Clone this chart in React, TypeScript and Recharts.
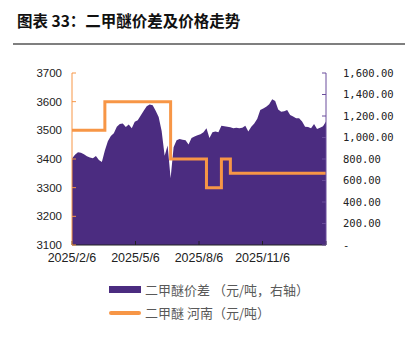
import React from "react";
import { ComposedChart, Area, Line, XAxis, YAxis } from "recharts";

// spread (right axis), evenly spaced samples across the year
const spread = [
  805, 840, 862, 858, 845, 825, 815, 808, 828, 790,
  772, 880, 965, 1015, 1040, 1100, 1125, 1130, 1098, 1120,
  1085, 1147, 1160, 1205, 1250, 1290, 1308, 1300, 1250, 1190,
  1060, 830, 925, 620, 910, 975, 985, 980, 975, 935,
  995, 1010, 1020, 1030, 1050, 1085, 995, 1050, 1055, 1050,
  1110, 1105, 1100, 1095, 1085, 1090, 1085, 1090, 1110, 1055,
  1100, 1130, 1175, 1255, 1270, 1285, 1310, 1355, 1340, 1260,
  1240, 1245, 1255, 1210, 1195, 1180, 1178, 1150, 1100, 1098,
  1085, 1125, 1080, 1090, 1105, 1150,
];

// Henan price steps (left axis): index where price changes, new price
const henanAt = [0, 11, 33, 45, 50, 53, 85];
const henanPrice = [3500, 3600, 3400, 3300, 3400, 3350, 3350];

const xLabels = ["2025/2/6", "2025/5/6", "2025/8/6", "2025/11/6", ""];
const leftTicks = [3100, 3200, 3300, 3400, 3500, 3600, 3700];
const rightTicks = [0, 200, 400, 600, 800, 1000, 1200, 1400, 1600];

const PURPLE = "#4B2C80";
const ORANGE = "#F79646";
const LAST = spread.length - 1;
const xTicks = [0, LAST / 4, LAST / 2, (LAST * 3) / 4, LAST];

const data = spread.map((v, i) => {
  const k = henanAt.indexOf(i);
  return { i, spread: v, henan: k >= 0 ? henanPrice[k] : undefined };
});

const fmtRight = (v: number) =>
  v === 0
    ? "-"
    : v.toLocaleString("en-US", { minimumFractionDigits: 2, maximumFractionDigits: 2 });

const cjk = '"Noto Sans CJK SC", sans-serif';

export default function App() {
  return (
    <div style={{ position: "absolute", left: 0, top: 0, width: 405, height: 340, background: "#fff" }}>
      <div
        style={{
          position: "absolute",
          left: 17,
          top: 9,
          fontFamily: cjk,
          fontWeight: 700,
          fontSize: 15.5,
          color: "#111",
          whiteSpace: "nowrap",
        }}
      >
        图表 33：二甲醚价差及价格走势
      </div>
      <div style={{ position: "absolute", left: 13, top: 43, width: 392, height: 1.5, background: "#7f7f7f" }} />

      <ComposedChart
        width={405}
        height={340}
        data={data}
        margin={{ top: 73, right: 0, bottom: 65, left: 0 }}
        style={{ position: "absolute", left: 0, top: 0 }}
      >
        <XAxis
          type="number"
          dataKey="i"
          domain={[0, LAST]}
          ticks={xTicks}
          tickFormatter={(v, idx) => xLabels[idx] ?? ""}
          height={30}
          tickSize={-4}
          tickMargin={12}
          stroke="#222"
          tick={{ fill: "#222", fontSize: 12.5, fontFamily: "Liberation Sans, Arial" }}
          interval={0}
        />
        <YAxis
          yAxisId="left"
          orientation="left"
          domain={[3100, 3700]}
          ticks={leftTicks}
          width={72}
          tickSize={-4}
          tickMargin={14}
          stroke={ORANGE}
          tick={{ fill: "#222", fontSize: 11.5, fontFamily: "Liberation Sans, Arial" }}
          interval={0}
        />
        <YAxis
          yAxisId="right"
          orientation="right"
          domain={[0, 1600]}
          ticks={rightTicks}
          width={79}
          tickSize={-4}
          tickMargin={21}
          stroke="#6A4C9C"
          tickFormatter={fmtRight}
          tick={{ fill: "#222", fontSize: 10.5, fontFamily: "DejaVu Sans Mono, monospace" }}
          interval={0}
        />
        <Area
          yAxisId="right"
          dataKey="spread"
          type="linear"
          stroke="none"
          fill={PURPLE}
          fillOpacity={1}
          isAnimationActive={false}
        />
        <Line
          yAxisId="left"
          dataKey="henan"
          type="stepAfter"
          connectNulls
          stroke={ORANGE}
          strokeWidth={3}
          dot={false}
          isAnimationActive={false}
        />
      </ComposedChart>

      <div style={{ position: "absolute", left: 109, top: 285.5, width: 32, height: 7, background: PURPLE }} />
      <div
        style={{
          position: "absolute",
          left: 145,
          top: 281,
          fontFamily: cjk,
          fontSize: 13,
          color: "#595959",
          whiteSpace: "nowrap",
          lineHeight: "18px",
        }}
      >
        二甲醚价差 （元/吨，右轴）
      </div>
      <div
        style={{
          position: "absolute",
          left: 109,
          top: 311,
          width: 32,
          height: 3.5,
          borderRadius: 2,
          background: ORANGE,
        }}
      />
      <div
        style={{
          position: "absolute",
          left: 145,
          top: 304,
          fontFamily: cjk,
          fontSize: 13,
          color: "#595959",
          whiteSpace: "nowrap",
          lineHeight: "18px",
        }}
      >
        二甲醚 河南（元/吨）
      </div>
    </div>
  );
}
